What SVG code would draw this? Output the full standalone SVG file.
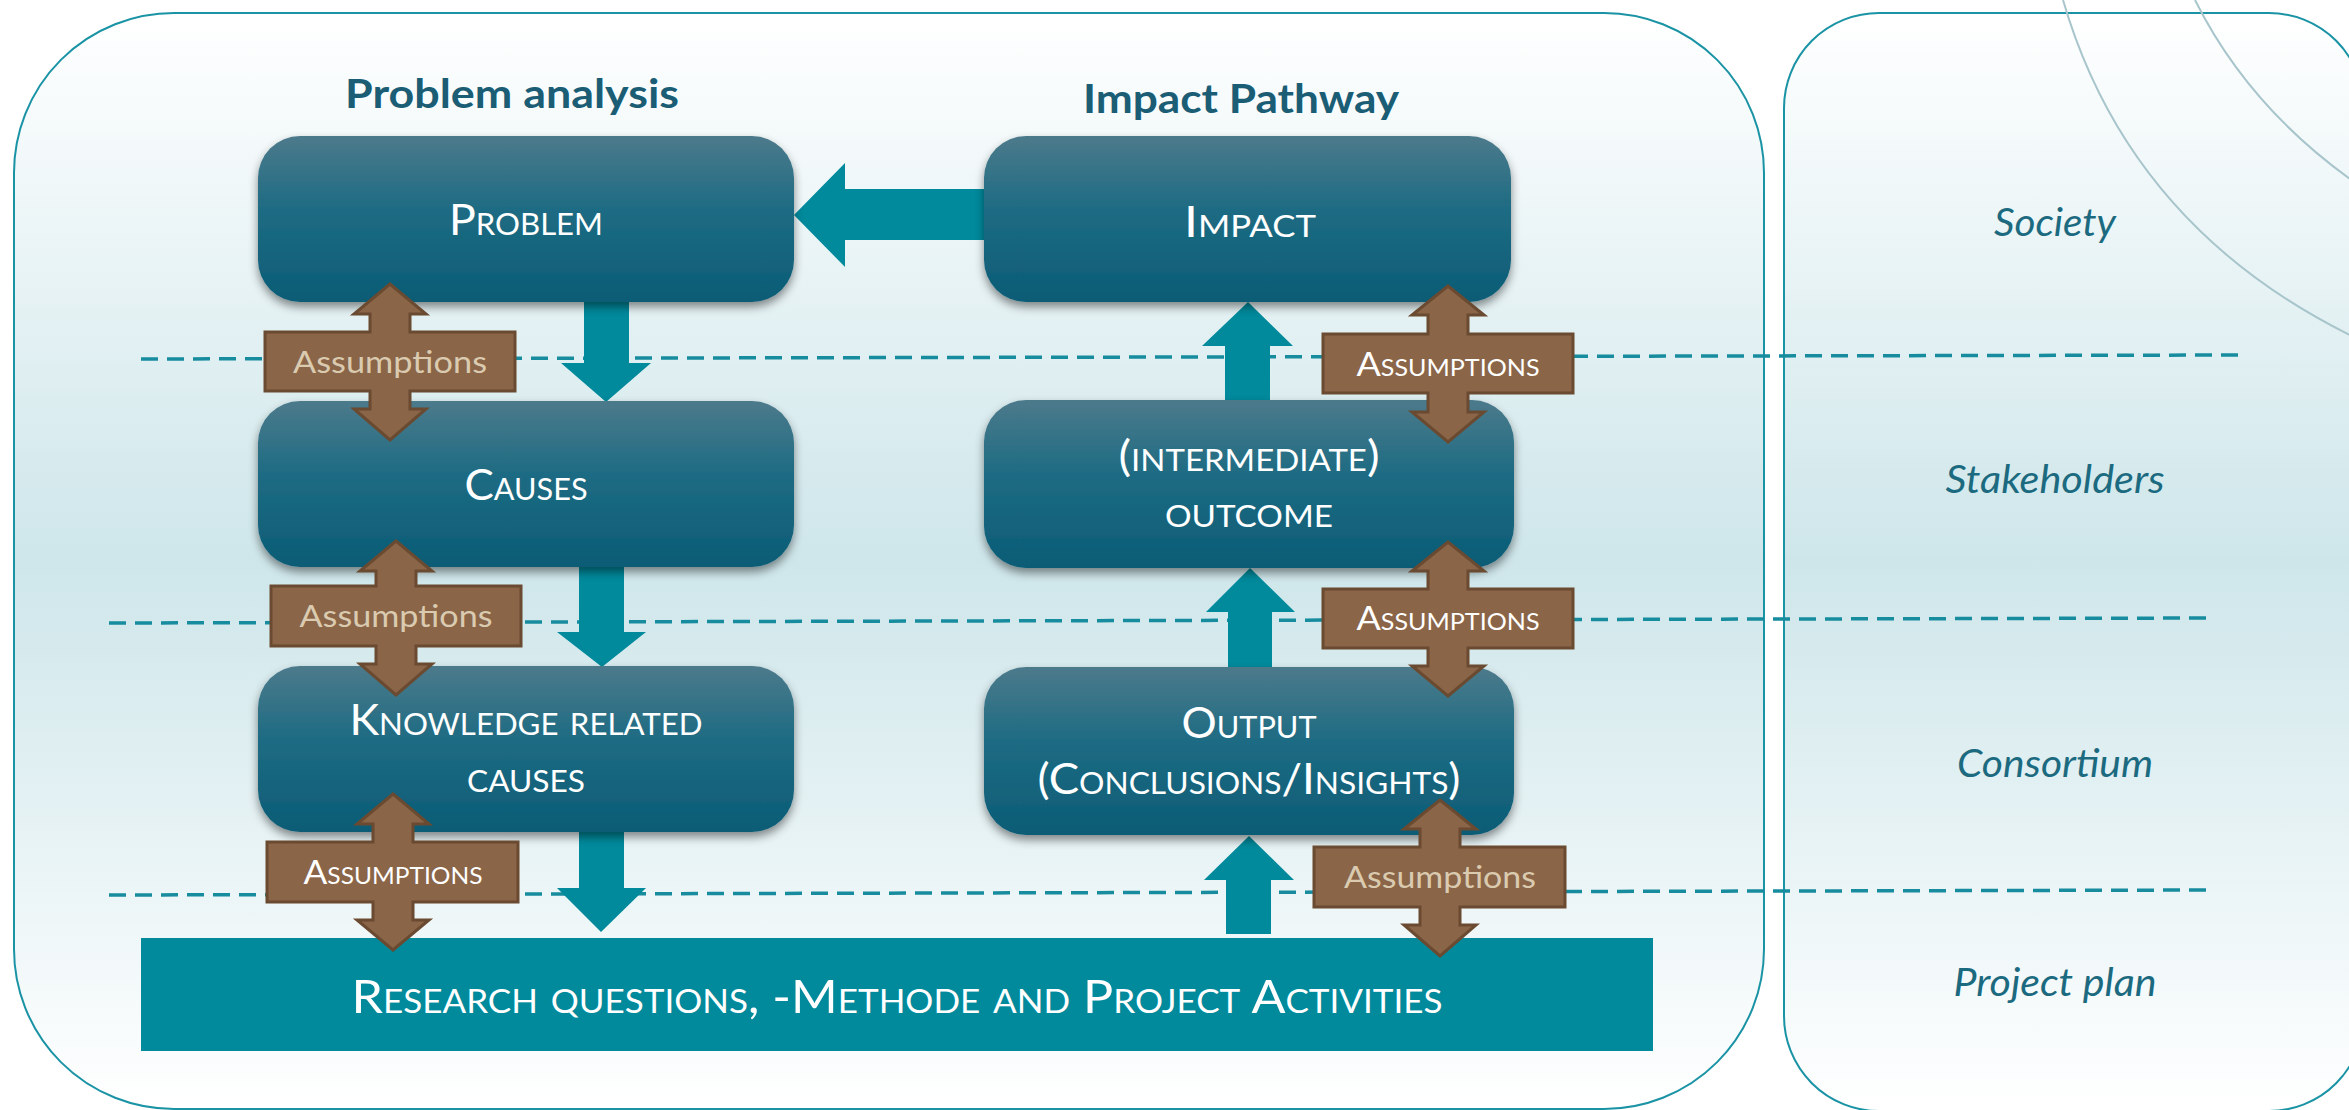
<svg xmlns="http://www.w3.org/2000/svg" width="2349" height="1110" viewBox="0 0 2349 1110">
<defs>
<linearGradient id="panelGrad" x1="0" y1="0" x2="0" y2="1">
<stop offset="0" stop-color="#ffffff"/>
<stop offset="0.5" stop-color="#cee6ea"/>
<stop offset="1" stop-color="#ffffff"/>
</linearGradient>
<linearGradient id="boxGrad" x1="0" y1="0" x2="0" y2="1">
<stop offset="0" stop-color="#4c7a8b"/>
<stop offset="0.45" stop-color="#1d6b83"/>
<stop offset="1" stop-color="#0c5c76"/>
</linearGradient>
<filter id="shadow" x="-10%" y="-10%" width="120%" height="130%">
<feDropShadow dx="0" dy="5" stdDeviation="5" flood-color="#000" flood-opacity="0.45"/>
</filter>
<style>
.panel{fill:url(#panelGrad);stroke:#1a93a5;stroke-width:2}
.deco{fill:none;stroke:#a8c5cc;stroke-width:2}
.div{fill:none;stroke:#178c9e;stroke-width:3.5;stroke-dasharray:17 9}
.box{fill:url(#boxGrad);filter:url(#shadow)}
.teal{fill:#008a9c}
.bar{fill:#008a9c}
.asm{fill:#8a6548;stroke:#6a4a30;stroke-width:3;stroke-linejoin:miter}
.btxt{font-family:Lato,"Open Sans",sans-serif;font-size:43px;fill:#ffffff;font-variant:small-caps;text-anchor:middle}
.rtxt{font-family:Lato,"Open Sans",sans-serif;font-size:46px;fill:#ffffff;font-variant:small-caps;text-anchor:middle}
.head{font-family:Lato,"Open Sans",sans-serif;font-size:41px;font-weight:bold;fill:#1a5d74;text-anchor:middle}
.lvl{font-family:Lato,"Open Sans",sans-serif;font-size:39px;font-style:italic;fill:#1c6a80;text-anchor:middle}
.an{font-family:Lato,"Open Sans",sans-serif;font-size:31px;fill:#dacbb0;text-anchor:middle}
.as{font-family:Lato,"Open Sans",sans-serif;font-size:33px;fill:#ffffff;font-variant:small-caps;text-anchor:middle}
</style>
</defs>
<rect x="0" y="0" width="2349" height="1110" fill="#ffffff"/>
<g id="panels">
<rect class="panel" x="14" y="13" width="1750" height="1096" rx="160" ry="160"/>
<rect class="panel" x="1784" y="13" width="580" height="1098" rx="95" ry="95"/>
<path class="deco" d="M2063,0 Q2130,230 2360,340"/>
<path class="deco" d="M2195,0 Q2250,110 2360,186"/>
</g>
<g id="dividers">
<line class="div" x1="141" y1="359" x2="2240" y2="355"/>
<line class="div" x1="109" y1="623" x2="2210" y2="618"/>
<line class="div" x1="109" y1="895" x2="2210" y2="890"/>
</g>
<g id="headings">
<text class="head" x="512" y="108" textLength="334" lengthAdjust="spacingAndGlyphs">Problem analysis</text>
<text class="head" x="1241" y="113" textLength="316" lengthAdjust="spacingAndGlyphs">Impact Pathway</text>
</g>
<g id="levels">
<text class="lvl" x="2055" y="236" textLength="122" lengthAdjust="spacingAndGlyphs">Society</text>
<text class="lvl" x="2055" y="493" textLength="219" lengthAdjust="spacingAndGlyphs">Stakeholders</text>
<text class="lvl" x="2055" y="777" textLength="196" lengthAdjust="spacingAndGlyphs">Consortium</text>
<text class="lvl" x="2055" y="996" textLength="203" lengthAdjust="spacingAndGlyphs">Project plan</text>
</g>
<g id="connectors">
<polygon class="teal" points="794,215 845,163 845,189 985,189 985,240 845,240 845,267"/>
<polygon class="teal" points="584,298 629,298 629,363 651,363 606,402 561,363 584,363"/>
<polygon class="teal" points="579,564 624,564 624,632 646,632 602,667 557,632 579,632"/>
<polygon class="teal" points="579,829 624,829 624,888 646,888 601,932 557,888 579,888"/>
<polygon class="teal" points="1225,402 1270,402 1270,346 1293,346 1248,302 1202,346 1225,346"/>
<polygon class="teal" points="1228,669 1272,669 1272,612 1295,612 1250,568 1206,612 1228,612"/>
<polygon class="teal" points="1226,934 1271,934 1271,880 1294,880 1249,836 1204,880 1226,880"/>
</g>
<g id="problem">
<rect class="box" x="258" y="136" width="536" height="166" rx="42" ry="42"/>
<text class="btxt" x="526" y="235" textLength="154" lengthAdjust="spacingAndGlyphs">Problem</text>
</g>
<g id="causes">
<rect class="box" x="258" y="401" width="536" height="166" rx="42" ry="42"/>
<text class="btxt" x="526" y="500" textLength="123" lengthAdjust="spacingAndGlyphs">Causes</text>
</g>
<g id="knowledge-causes">
<rect class="box" x="258" y="666" width="536" height="166" rx="42" ry="42"/>
<text class="btxt" x="526" y="735" textLength="353" lengthAdjust="spacingAndGlyphs">Knowledge related</text>
<text class="btxt" x="526" y="792" textLength="118" lengthAdjust="spacingAndGlyphs">causes</text>
</g>
<g id="impact">
<rect class="box" x="984" y="136" width="527" height="166" rx="42" ry="42"/>
<text class="btxt" x="1250" y="237" textLength="132" lengthAdjust="spacingAndGlyphs">Impact</text>
</g>
<g id="outcome">
<rect class="box" x="984" y="400" width="530" height="168" rx="42" ry="42"/>
<text class="btxt" x="1249" y="471" textLength="261" lengthAdjust="spacingAndGlyphs">(intermediate)</text>
<text class="btxt" x="1249" y="527" textLength="168" lengthAdjust="spacingAndGlyphs">outcome</text>
</g>
<g id="output">
<rect class="box" x="984" y="667" width="530" height="168" rx="42" ry="42"/>
<text class="btxt" x="1249" y="738" textLength="135" lengthAdjust="spacingAndGlyphs">Output</text>
<text class="btxt" x="1249" y="794" textLength="423" lengthAdjust="spacingAndGlyphs">(Conclusions/Insights)</text>
</g>
<g id="research">
<rect class="bar" x="141" y="938" width="1512" height="113"/>
<text class="rtxt" x="897" y="1013" textLength="1091" lengthAdjust="spacingAndGlyphs">Research questions, -Methode and Project Activities</text>
</g>
<g id="assumption-1">
<path class="asm" d="M390,284 L426,314 L410,314 L410,332 L515,332 L515,391 L410,391 L410,409 L426,409 L390,440 L354,409 L370,409 L370,391 L265,391 L265,332 L370,332 L370,314 L354,314 Z"/>
<text class="an" x="390" y="373" textLength="194" lengthAdjust="spacingAndGlyphs">Assumptions</text>
</g>
<g id="assumption-2">
<path class="asm" d="M396,541 L432,571 L416,571 L416,586 L521,586 L521,646 L416,646 L416,664 L432,664 L396,695 L360,664 L376,664 L376,646 L271,646 L271,586 L376,586 L376,571 L360,571 Z"/>
<text class="an" x="396" y="627" textLength="193" lengthAdjust="spacingAndGlyphs">Assumptions</text>
</g>
<g id="assumption-3">
<path class="asm" d="M393,794 L429,824 L413,824 L413,842 L518,842 L518,902 L413,902 L413,920 L429,920 L393,950 L357,920 L373,920 L373,902 L267,902 L267,842 L373,842 L373,824 L357,824 Z"/>
<text class="as" x="393" y="884" textLength="179" lengthAdjust="spacingAndGlyphs">Assumptions</text>
</g>
<g id="assumption-4">
<path class="asm" d="M1448,286 L1484,315 L1468,315 L1468,334 L1573,334 L1573,393 L1468,393 L1468,412 L1484,412 L1448,442 L1412,412 L1428,412 L1428,393 L1323,393 L1323,334 L1428,334 L1428,315 L1412,315 Z"/>
<text class="as" x="1448" y="376" textLength="183" lengthAdjust="spacingAndGlyphs">Assumptions</text>
</g>
<g id="assumption-5">
<path class="asm" d="M1448,542 L1484,571 L1468,571 L1468,589 L1573,589 L1573,648 L1468,648 L1468,666 L1484,666 L1448,696 L1412,666 L1428,666 L1428,648 L1323,648 L1323,589 L1428,589 L1428,571 L1412,571 Z"/>
<text class="as" x="1448" y="630" textLength="183" lengthAdjust="spacingAndGlyphs">Assumptions</text>
</g>
<g id="assumption-6">
<path class="asm" d="M1440,800 L1476,829 L1460,829 L1460,847 L1565,847 L1565,907 L1460,907 L1460,925 L1476,925 L1440,956 L1404,925 L1420,925 L1420,907 L1314,907 L1314,847 L1420,847 L1420,829 L1404,829 Z"/>
<text class="an" x="1440" y="888" textLength="192" lengthAdjust="spacingAndGlyphs">Assumptions</text>
</g>
</svg>
